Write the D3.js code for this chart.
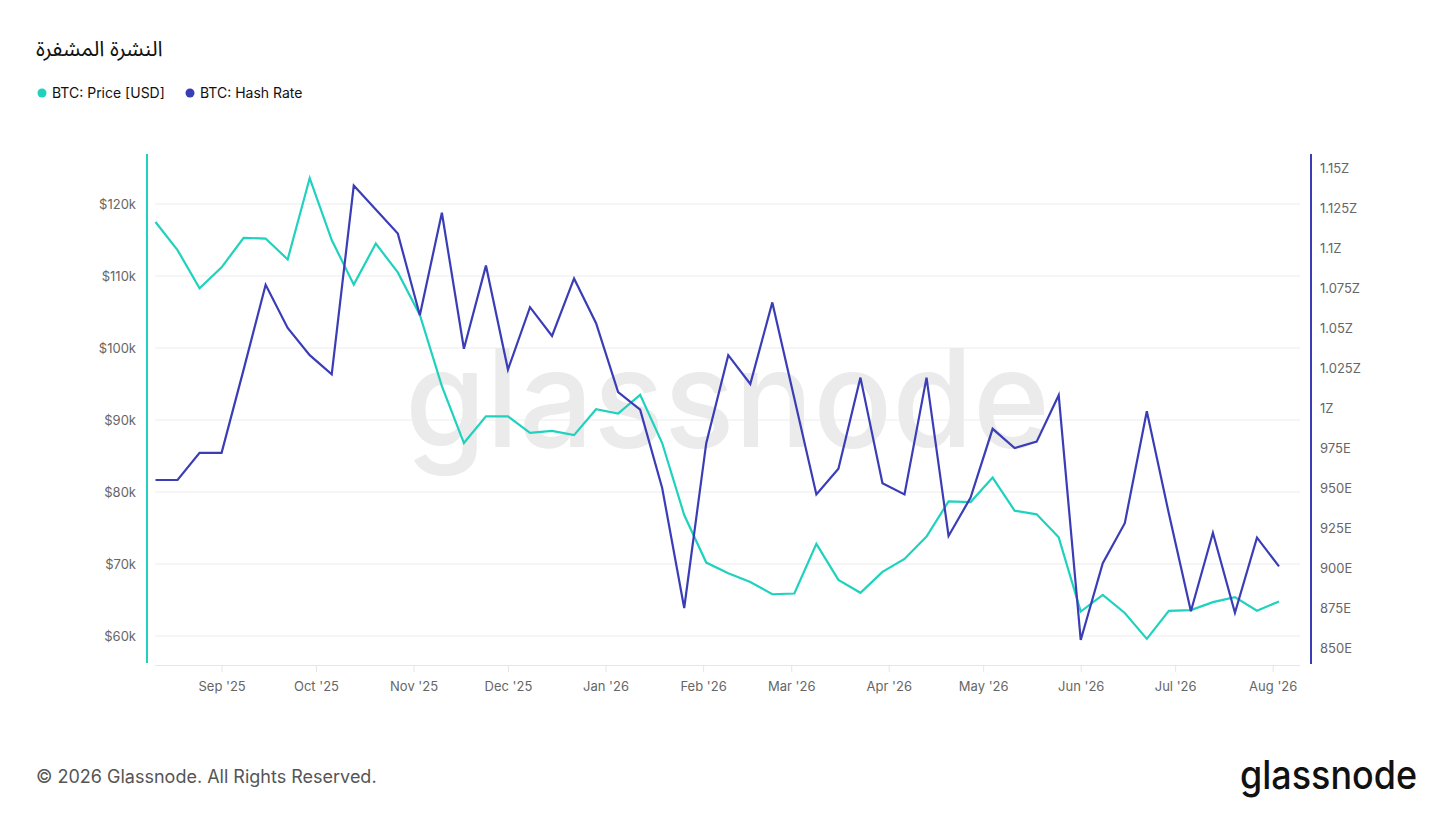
<!DOCTYPE html>
<html lang="en">
<head>
<meta charset="UTF-8">
<title>BTC Price vs Hash Rate</title>
<script src="https://d3js.org/d3.v7.min.js"></script>
<style>
  body { margin: 0; background: #fff; }
  text { font-family: Inter, "Noto Sans", sans-serif; }
</style>
</head>
<body>
<script>
// weekly dates (Mondays)
const dates = [
  '2025-08-11','2025-08-18','2025-08-25','2025-09-01','2025-09-08','2025-09-15','2025-09-22','2025-09-29',
  '2025-10-06','2025-10-13','2025-10-20','2025-10-27','2025-11-03','2025-11-10','2025-11-17','2025-11-24',
  '2025-12-01','2025-12-08','2025-12-15','2025-12-22','2025-12-29','2026-01-05','2026-01-12','2026-01-19',
  '2026-01-26','2026-02-02','2026-02-09','2026-02-16','2026-02-23','2026-03-02','2026-03-09','2026-03-16',
  '2026-03-23','2026-03-30','2026-04-06','2026-04-13','2026-04-20','2026-04-27','2026-05-04','2026-05-11',
  '2026-05-18','2026-05-25','2026-06-01','2026-06-08','2026-06-15','2026-06-22','2026-06-29','2026-07-06',
  '2026-07-13','2026-07-20','2026-07-27','2026-08-03'
];

// BTC price, thousands of USD
const price = [
  117.5, 113.6, 108.3, 111.2, 115.3, 115.2, 112.3, 123.6, 115.0, 108.8,
  114.5, 110.5, 104.6, 94.7, 86.8, 90.5, 90.5, 88.2, 88.5, 87.9,
  91.5, 90.9, 93.5, 86.8, 76.8, 70.2, 68.7, 67.5, 65.8, 65.9,
  72.8, 67.8, 66.0, 68.9, 70.7, 73.8, 78.7, 78.6, 82.0, 77.4,
  76.9, 73.7, 63.4, 65.7, 63.2, 59.6, 63.5, 63.6, 64.7, 65.4,
  63.5, 64.8
];

// hash rate, EH/s
const hashRate = [
  955, 955, 972, 972, 1024, 1077, 1050, 1033, 1021, 1139,
  1124, 1109, 1058, 1122, 1037, 1089, 1024, 1063, 1045, 1081,
  1053, 1010, 999, 950, 875, 978, 1033, 1015, 1066, 1006,
  946, 962, 1019, 953, 946, 1019, 920, 944, 987, 975,
  979, 1008, 855, 903, 928, 998, 934, 873, 922, 872,
  919, 901
];

const priceTicks = [60, 70, 80, 90, 100, 110, 120];
const hashTicks = [850, 875, 900, 925, 950, 975, 1000, 1025, 1050, 1075, 1100, 1125, 1150];
const monthTicks = ['2025-09-01','2025-10-01','2025-11-01','2025-12-01','2026-01-01','2026-02-01',
  '2026-03-01','2026-04-01','2026-05-01','2026-06-01','2026-07-01','2026-08-01'];

const width = 1456, height = 819;
const teal = '#1fd2bd', blue = '#3a3db6';

const parse = d3.timeParse('%Y-%m-%d');
const rows = dates.map((d, i) => ({ date: parse(d), price: price[i], hash: hashRate[i] }));

const svg = d3.select('body').append('svg').attr('width', width).attr('height', height);

const plotTop = 154, plotBottom = 665, plotLeft = 155, plotRight = 1300;

const x = d3.scaleTime().domain([parse('2025-08-11'), parse('2026-08-03')]).range([155.5, 1279]);
const yPrice = d3.scaleLinear().domain([60, 120]).range([636, 204]);
const yHash = d3.scaleLinear().domain([850, 1150]).range([648, 168]);

// title
svg.append('text')
  .attr('x', 36).attr('y', 56)
  .style('font-family', '"Noto Sans Arabic", "DejaVu Sans", sans-serif')
  .style('font-size', '21.5px').style('fill', '#111')
  .text('النشرة المشفرة');

// legend
const legend = [
  { label: 'BTC: Price [USD]', color: teal, x: 42 },
  { label: 'BTC: Hash Rate', color: blue, x: 190 }
];
const lg = svg.append('g').selectAll('g').data(legend).join('g')
  .attr('transform', d => `translate(${d.x},93)`);
lg.append('circle').attr('r', 4.5).attr('fill', d => d.color);
lg.append('text').attr('x', 10).attr('dy', '0.35em')
  .style('font-size', '14px').style('fill', '#111').text(d => d.label);

// watermark
svg.append('text')
  .attr('x', 405).attr('y', 447)
  .attr('textLength', 645).attr('lengthAdjust', 'spacingAndGlyphs')
  .style('font-size', '136px').style('font-weight', 500)
  .style('fill', '#ebebeb')
  .text('glassnode');

// gridlines
svg.append('g').selectAll('line').data(priceTicks).join('line')
  .attr('x1', plotLeft).attr('x2', plotRight)
  .attr('y1', d => yPrice(d)).attr('y2', d => yPrice(d))
  .attr('stroke', '#ececec').attr('stroke-width', 1);

// x axis
const xAxis = svg.append('g')
  .attr('transform', `translate(0,${plotBottom})`)
  .call(d3.axisBottom(x)
    .tickValues(monthTicks.map(parse))
    .tickFormat(d3.timeFormat("%b '%y"))
    .tickSize(7).tickPadding(10));
xAxis.select('.domain').attr('stroke', '#e6e6e6').attr('d', `M${plotLeft},0.5H${plotRight}`);
xAxis.selectAll('.tick line').attr('stroke', '#e6e6e6');
xAxis.selectAll('.tick text').style('font-size', '13px').style('fill', '#666').style('font-family', 'Inter, sans-serif');

// left axis
const leftAxis = svg.append('g')
  .attr('transform', 'translate(147,0)')
  .call(d3.axisLeft(yPrice).tickValues(priceTicks).tickFormat(d => `$${d}k`).tickSize(0).tickPadding(11));
leftAxis.select('.domain').remove();
leftAxis.selectAll('.tick text').style('font-size', '13px').style('fill', '#666').style('font-family', 'Inter, sans-serif');
svg.append('line').attr('x1', 147).attr('x2', 147).attr('y1', plotTop).attr('y2', 663)
  .attr('stroke', teal).attr('stroke-width', 2);

// right axis
const rightAxis = svg.append('g')
  .attr('transform', 'translate(1311,0)')
  .call(d3.axisRight(yHash).tickValues(hashTicks)
    .tickFormat(d => d >= 1000 ? `${d3.format('~g')(d / 1000)}Z` : `${d}E`)
    .tickSize(0).tickPadding(9));
rightAxis.select('.domain').remove();
rightAxis.selectAll('.tick text').style('font-size', '13px').style('fill', '#666').style('font-family', 'Inter, sans-serif');
svg.append('line').attr('x1', 1311).attr('x2', 1311).attr('y1', plotTop).attr('y2', 664)
  .attr('stroke', blue).attr('stroke-width', 2);

// lines
const priceLine = d3.line().x(d => x(d.date)).y(d => yPrice(d.price));
const hashLine = d3.line().x(d => x(d.date)).y(d => yHash(d.hash));

svg.append('path').datum(rows).attr('d', priceLine)
  .attr('fill', 'none').attr('stroke', teal).attr('stroke-width', 2.2).attr('stroke-linejoin', 'miter');
svg.append('path').datum(rows).attr('d', hashLine)
  .attr('fill', 'none').attr('stroke', blue).attr('stroke-width', 2.2).attr('stroke-linejoin', 'miter');

// footer
svg.append('text').attr('x', 36).attr('y', 783)
  .style('font-size', '18px').style('fill', '#555')
  .text('© 2026 Glassnode. All Rights Reserved.');
svg.append('text').attr('x', 1240).attr('y', 789)
  .attr('textLength', 177).attr('lengthAdjust', 'spacingAndGlyphs')
  .style('font-size', '39px').style('font-weight', 500).style('fill', '#111')
  .text('glassnode');
</script>
</body>
</html>
